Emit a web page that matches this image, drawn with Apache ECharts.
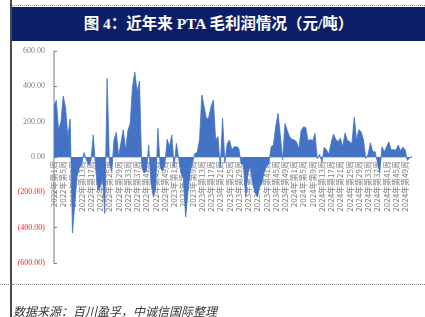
<!DOCTYPE html>
<html><head><meta charset="utf-8">
<script src="https://cdn.jsdelivr.net/npm/echarts@6/dist/echarts.min.js"></script>
<style>
html,body{margin:0;padding:0;background:#fff;}
#wrap{position:relative;width:425px;height:317px;overflow:hidden;}
#chart{position:absolute;left:0;top:0;width:425px;height:317px;}
#leftline{position:absolute;left:10px;top:0;width:2px;height:317px;background:#4a4a4a;}
#topdots{position:absolute;left:12px;top:5px;width:413px;border-top:1px dotted #888;}
#bar{position:absolute;left:12px;top:7px;width:413px;height:34px;background:#0c1f66;color:#fff;
 font-family:"Liberation Serif","Noto Sans CJK SC",serif;font-weight:bold;font-size:15.5px;line-height:34px;text-align:center;}
#botdots{position:absolute;left:0;top:284px;width:425px;border-top:1px dotted #888;}
#foot{position:absolute;left:13px;top:302px;font-family:"Noto Sans CJK SC",sans-serif;font-style:italic;font-size:12px;color:#333;white-space:nowrap;}
</style></head>
<body><div id="wrap">
<div id="chart"></div>
<div id="leftline"></div>
<div id="topdots"></div>
<div id="bar">图 4：近年来 PTA 毛利润情况（元/吨）</div>
<div id="botdots"></div>
<div id="foot">数据来源：百川盈孚，中诚信国际整理</div>
</div>
<script>
const years = [2022, 2023, 2024];
const weeksPerYear = [52, 52, 52];
const profit = [
 290,320,150,200,345,280,115,215,-430,-260,
 -110,-60,-40,25,-15,-45,-20,125,-60,-190,
 -170,-120,-320,445,-30,-80,100,140,5,80,
 155,40,150,190,400,480,370,430,-60,-90,
 -80,68,-150,-225,-170,162,-60,-80,-40,100,
 58,125,-55,77,-10,-90,-120,-340,-200,-80,
 -30,20,25,96,351,285,215,225,285,322,
 96,115,-60,219,-35,77,96,40,58,58,
 50,-35,-50,-225,-90,-50,-150,-200,-225,-170,
 -150,-85,-55,-40,58,68,172,247,120,-15,
 190,150,115,100,96,87,45,150,170,168,
 90,100,90,134,-10,15,-30,55,40,15,
 80,130,100,87,106,58,136,95,87,77,
 225,96,155,143,96,-8,15,80,30,30,
 -26,-92,58,30,58,85,40,42,38,68,
 36,55,42,-20,-3,2
];
const yTicks = [-600, -400, -200, 0, 200, 400, 600];

const categories = [];
years.forEach((y, k) => { for (let w = 1; w <= weeksPerYear[k]; w++) categories.push(y + '年第' + w + '周'); });

const gridTop = 51, gridBottom = 54;
const plotH = 317 - gridTop - gridBottom;

const chart = echarts.init(document.getElementById('chart'), null, {renderer: 'canvas'});
chart.setOption({
  animation: false,
  grid: {left: 54, right: 13, top: gridTop, bottom: gridBottom, containLabel: false, outerBoundsMode: 'none'},
  xAxis: {
    type: 'category', data: categories.slice(0, profit.length), boundaryGap: false,
    position: 'bottom', offset: -plotH / 2,
    axisLine: {show: true, onZero: false, lineStyle: {color: '#d0d0d0', width: 1}},
    axisTick: {show: false},
    axisLabel: {interval: 3, rotate: 90, fontSize: 8, color: '#808080', margin: 4,
      fontFamily: 'Noto Sans CJK SC'}
  },
  yAxis: {
    type: 'value', min: yTicks[0], max: yTicks[yTicks.length - 1], interval: 200,
    splitLine: {show: false},
    axisLine: {show: true, lineStyle: {color: '#a6a6a6', width: 1.5}},
    axisTick: {show: true, inside: true, length: 3, lineStyle: {color: '#808080'}},
    axisLabel: {
      margin: 9,
      formatter: function (v) {
        const s = Math.abs(v).toFixed(2);
        return v < 0 ? '{n|(' + s + ')}' : '{p|' + s + '}';
      },
      rich: {
        p: {color: '#7f7f7f', fontSize: 8, fontFamily: 'Liberation Serif'},
        n: {color: '#ff2020', fontSize: 8, fontFamily: 'Liberation Serif'}
      }
    }
  },
  series: [{
    type: 'line', data: profit, showSymbol: false, symbol: 'none',
    lineStyle: {color: '#4472c4', width: 0.8},
    areaStyle: {color: '#4472c4', opacity: 1},
    z: 3
  }]
});
</script>
</body></html>
